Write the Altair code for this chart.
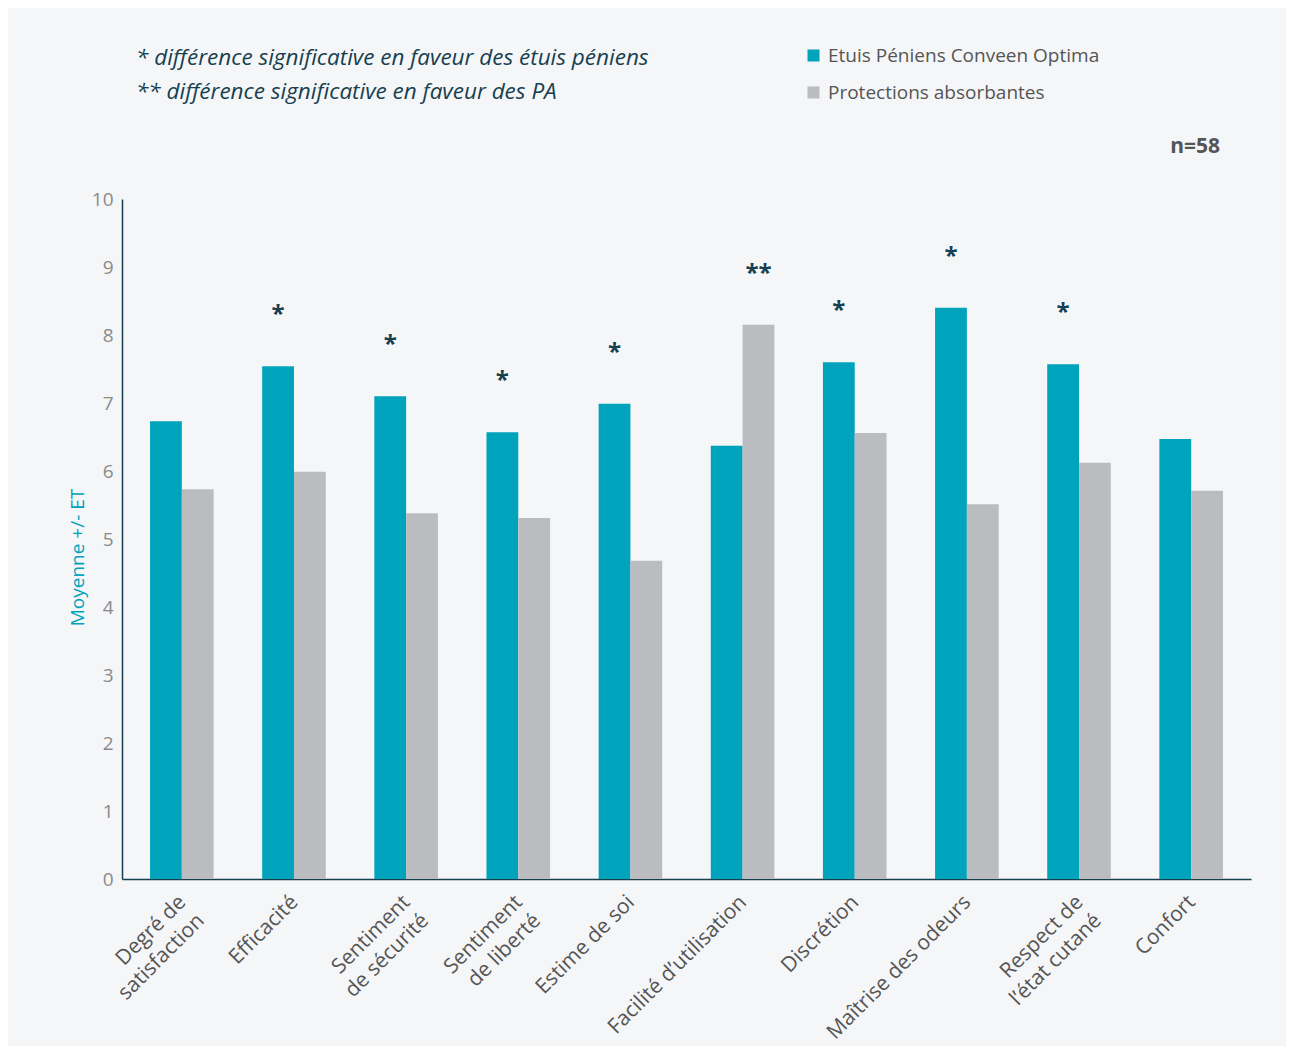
import altair as alt
import pandas as pd

# ---- data ----
categories = [
    "Degré de|satisfaction",
    "Efficacité",
    "Sentiment|de sécurité",
    "Sentiment|de liberté",
    "Estime de soi",
    "Facilité d’utilisation",
    "Discrétion",
    "Maîtrise des odeurs",
    "Respect de|l’état cutané",
    "Confort",
]
series = ["Etuis Péniens Conveen Optima", "Protections absorbantes"]
etuis = [6.73, 7.54, 7.10, 6.57, 6.99, 6.37, 7.60, 8.40, 7.57, 6.47]
protections = [5.73, 5.99, 5.38, 5.31, 4.68, 8.15, 6.56, 5.51, 6.12, 5.71]
significance = ["", "*", "*", "*", "*", "**", "*", "*", "*", ""]
notes = [
    "* différence significative en faveur des étuis péniens",
    "** différence significative en faveur des PA",
]
sample_size = "n=58"

TEAL = "#00a3bc"
GRAY = "#bbbcc0"
DARK = "#17404f"
BG = "#f5f6f8"

rows = []
for c, a, b in zip(categories, etuis, protections):
    rows.append({"category": c, "series": series[0], "value": a})
    rows.append({"category": c, "series": series[1], "value": b})
df = pd.DataFrame(rows)

stars = []
for c, s, a, b in zip(categories, significance, etuis, protections):
    if s == "*":
        stars.append({"category": c, "series": series[0], "value": a, "mark": s})
    elif s == "**":
        stars.append({"category": c, "series": series[1], "value": b, "mark": s})
sdf = pd.DataFrame(stars)

xenc = alt.X(
    "category:N",
    sort=categories,
    scale=alt.Scale(domain=categories, paddingInner=0.433, paddingOuter=0.25),
    axis=alt.Axis(
        title=None,
        labelAngle=-45,
        labelAlign="right",
        labelBaseline="top",
        labelExpr="split(datum.value, '|')",
        labelFontSize=21,
        labelColor="#555555",
        labelLineHeight=26,
        labelPadding=12,
        labelOffset=-7,
        labelLimit=0,
        ticks=False,
        domainColor=DARK,
        domainWidth=1.5,
    ),
)
xoff = alt.XOffset("series:N", scale=alt.Scale(domain=series, paddingInner=0, paddingOuter=0))
yenc = alt.Y(
    "value:Q",
    scale=alt.Scale(domain=[0, 10], nice=False),
    axis=alt.Axis(
        values=list(range(11)),
        format="d",
        grid=False,
        ticks=False,
        labelFontSize=19,
        labelColor="#8a8a8a",
        labelPadding=9,
        domainColor=DARK,
        domainWidth=1.5,
        title="Moyenne +/- ET",
        titleColor=TEAL,
        titleFontSize=19,
        titleFontWeight="normal",
        titleAngle=-90,
        titleX=-45,
        titleY=358,
        titleAlign="center",
        titleBaseline="middle",
    ),
)

bars = alt.Chart(df).mark_bar().encode(
    x=xenc,
    xOffset=xoff,
    y=yenc,
    color=alt.Color(
        "series:N",
        scale=alt.Scale(domain=series, range=[TEAL, GRAY]),
        legend=alt.Legend(
            orient="none",
            legendX=682,
            legendY=-153,
            title=None,
            symbolType="square",
            symbolSize=144,
            symbolStrokeWidth=0,
            labelFontSize=19,
            labelColor="#555555",
            labelOffset=5,
            labelLimit=0,
            rowPadding=17,
        ),
    ),
)

star_text = alt.Chart(sdf).mark_text(
    fontSize=24, fontWeight="bold", color=DARK, baseline="alphabetic", dy=-44
).encode(
    x=alt.X("category:N", sort=categories),
    xOffset=xoff,
    y=alt.Y("value:Q"),
    text="mark:N",
)

note1 = alt.Chart(pd.DataFrame({"t": [notes[0]]})).mark_text(
    fontSize=22.5, fontStyle="italic", color=DARK, align="left", baseline="middle"
).encode(x=alt.value(14), y=alt.value(-141), text="t:N")
note2 = alt.Chart(pd.DataFrame({"t": [notes[1]]})).mark_text(
    fontSize=22.5, fontStyle="italic", color=DARK, align="left", baseline="middle"
).encode(x=alt.value(14), y=alt.value(-107), text="t:N")
ntext = alt.Chart(pd.DataFrame({"t": [sample_size]})).mark_text(
    fontSize=21, fontWeight="bold", color="#555555", align="right", baseline="middle"
).encode(x=alt.value(1098), y=alt.value(-52), text="t:N")

chart = (
    alt.layer(bars, star_text, note1, note2, ntext)
    .properties(
        width=1129,
        height=680,
        padding={"left": 114, "top": 191, "right": 35, "bottom": 167},
        autosize=alt.AutoSizeParams(type="none"),
        background=BG,
    )
    .configure(font="Open Sans")
    .configure_view(strokeWidth=0)
)

chart.save("out.html", embed_options={"renderer": "svg", "actions": False})
